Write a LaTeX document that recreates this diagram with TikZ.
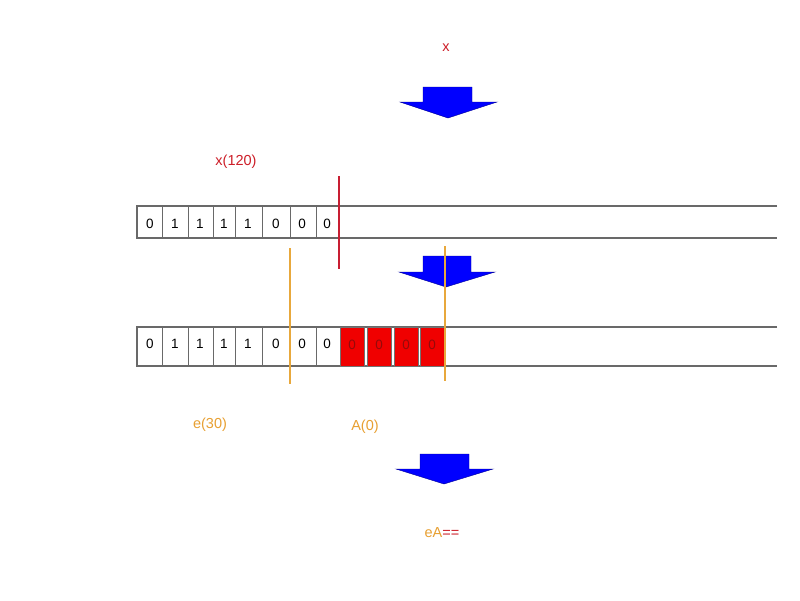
\documentclass[tikz,border=0pt]{standalone}
\usepackage{fontspec}
\setmainfont{Liberation Sans}
\definecolor{txtred}{RGB}{205,30,40}
\definecolor{txtorange}{RGB}{232,160,50}
\definecolor{lineorange}{RGB}{232,168,60}
\definecolor{linered}{RGB}{200,30,50}
\definecolor{strip}{RGB}{105,105,105}
\definecolor{arrowblue}{RGB}{0,0,255}
\definecolor{arrowedge}{RGB}{0,0,150}
\definecolor{cellred}{RGB}{240,0,0}
\definecolor{zerored}{RGB}{150,10,10}
\begin{document}
\begin{tikzpicture}[x=1pt,y=-1pt,
  lbl/.style={font=\fontsize{14.5}{16}\selectfont, inner sep=0pt},
  digit/.style={font=\fontsize{13.5}{15}\selectfont, inner sep=0pt, anchor=center},
  stripline/.style={draw=strip, line width=1.1pt},
  divider/.style={draw=strip, line width=0.6pt},
  redcell/.style={fill=cellred, draw=black!55, line width=0.5pt},
  bigarrow/.style={fill=arrowblue, draw=arrowedge, line width=0.4pt},
  redmark/.style={draw=linered, line width=1.1pt},
  orangemark/.style={draw=lineorange, line width=1.1pt}]
\useasboundingbox (0,0) rectangle (800,600);
\fill[white] (0,0) rectangle (800,600);

% labels
\node[lbl, text=txtred] (xlbl) at (446,48) {x};
\node[lbl, text=txtred] (xlbl120) at (236,162) {x(120)};
\node[lbl, text=txtorange] (elbl) at (210,425) {e(30)};
\node[lbl, text=txtorange] (albl) at (365,427) {A(0)};
\node[lbl] (ealbl) at (442,533) {\textcolor{txtorange}{eA}\textcolor{txtred}{==}};

% arrows
\draw[bigarrow] (423,87) -- (472,87) -- (472,102) -- (497,102) -- (448,118) -- (400,102) -- (423,102) -- cycle;
\draw[bigarrow] (423,256) -- (471,256) -- (471,272) -- (495,272) -- (446,287) -- (399,272) -- (423,272) -- cycle;
\draw[bigarrow] (420,454) -- (469,454) -- (469,469) -- (493,469) -- (444,484) -- (396,469) -- (420,469) -- cycle;

% top strip
\draw[stripline] (777,206) -- (137,206) -- (137,238) -- (777,238);
\foreach \xx in {162,188,213,235,262,290,316}
  \draw[divider] (\xx,206) -- (\xx,238);
\foreach \xx/\t [count=\i] in {150/0,175/1,200/1,224/1,248/1,276/0,302/0,327/0}
  \node[digit] (ta\i) at (\xx,223.5) {\t};

% bottom strip
\draw[stripline] (777,327) -- (137,327) -- (137,366) -- (777,366);
\foreach \xx in {162,188,213,235,262,290,316}
  \draw[divider] (\xx,327) -- (\xx,366);
\foreach \xx/\t [count=\i] in {150/0,175/1,200/1,224/1,248/1,276/0,302/0,327/0}
  \node[digit] (tb\i) at (\xx,344) {\t};
\foreach \l/\r [count=\i] in {340/364,367/391,394/418,420/444}{
  \draw[redcell] (\l,327.5) rectangle (\r,366);
  \node[digit, text=zerored] (rc\i) at ({(\l+\r)/2},344.5) {0};
}

% marker lines
\coordinate (r1) at (339,176); \coordinate (r2) at (339,269);
\draw[redmark] (r1) -- (r2);
\coordinate (o1) at (290,248); \coordinate (o2) at (290,384);
\draw[orangemark] (o1) -- (o2);
\coordinate (o3) at (445,246); \coordinate (o4) at (445,381);
\draw[orangemark] (o3) -- (o4);
\end{tikzpicture}
\end{document}
